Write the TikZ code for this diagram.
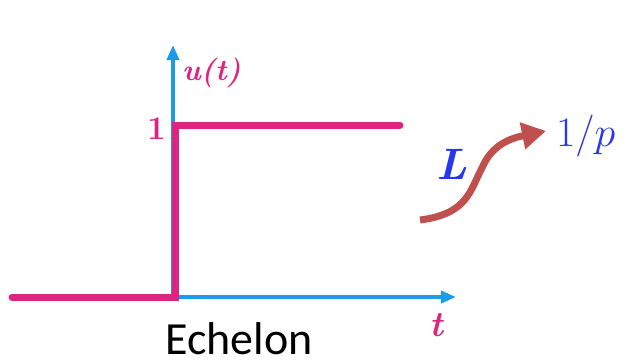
\RequirePackage{fix-cm}
\documentclass[tikz,border=0pt]{standalone}
\usepackage{fontspec}
\usepackage{amsmath}
\newfontfamily\calfont{Carlito}
\usetikzlibrary{arrows.meta}
\definecolor{stepmag}{RGB}{220,36,128}
\definecolor{axisblue}{RGB}{30,155,232}
\definecolor{lapblue}{RGB}{40,55,235}
\definecolor{arrowred}{RGB}{192,80,77}

\begin{document}
\begin{tikzpicture}[
  x=1pt,y=-1pt,
  >=Triangle,
  axis/.style    ={draw=axisblue,line width=4pt,
                   -{Triangle[length=15pt,width=12pt]}},
  stepline/.style={draw=stepmag,line width=7pt,line cap=round,line join=miter},
  maglabel/.style={text=stepmag,inner sep=0pt},
  bluelabel/.style={text=lapblue,inner sep=0pt},
  transf/.style  ={draw=arrowred,line width=7pt,
                   -{Triangle[length=24pt,width=26pt]}},
]
\useasboundingbox (0,0) rectangle (633,364);

%% ============================================================
%%  Axes
%% ============================================================
\coordinate (orig) at (173,297);
\coordinate (ytip) at (173,45);
\coordinate (xtip) at (456,297);
\draw[axis] (orig) -- (ytip);
\draw[axis] (orig) -- (xtip);

%% ============================================================
%%  Unit step
%% ============================================================
\coordinate (stepL)  at (12,297);
\coordinate (stepO)  at (175,297);
\coordinate (stepT)  at (175,125);
\coordinate (stepR)  at (400,125);
\draw[stepline] (stepL) -- (stepO) -- (stepT) -- (stepR);

\node[maglabel,anchor=west,font=\fontsize{30}{34}\selectfont\bfseries\itshape] (ulab) at (182,73) {u(t)};
\node[maglabel,anchor=east,font=\fontsize{33}{36}\selectfont\bfseries] (one) at (166,129) {1};
\node[maglabel,font=\fontsize{36}{40}\selectfont\bfseries\itshape] (tlab) at (436,325) {t};
\node[inner sep=0pt,text depth=0pt,anchor=base west,font=\calfont\fontsize{46}{50}\selectfont] (name) at (165,354) {Echelon};

%% ============================================================
%%  Laplace transform
%% ============================================================
\coordinate (trS) at (420,220);
\coordinate (trM) at (482,168);
\coordinate (trE) at (546,131);
\draw[transf] (trS) .. controls (468,214) and (470,190) .. (trM)
      .. controls (492,144) and (512,138) .. (trE);
\node[bluelabel,font=\fontsize{44}{48}\selectfont\bfseries\itshape] (lap) at (452,164) {L};
\node[bluelabel,anchor=west,font=\fontsize{42}{46}\selectfont] (res) at (556,136) {$1/p$};

\end{tikzpicture}
\end{document}
